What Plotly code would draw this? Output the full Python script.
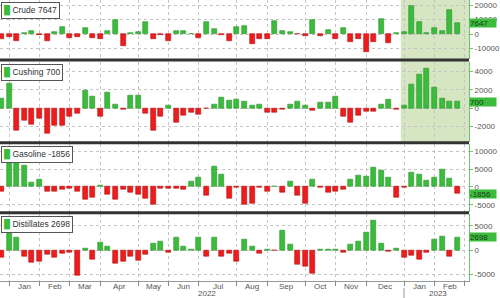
import plotly.graph_objects as go
import pandas as pd

# ---------------- data (thousand barrels, weekly change) ----------------
week_start = "2021-12-24"
n_weeks = 61
crude = [-3600, -2100, -4600, 500, 2400, -1000, -4800, 1100, 4500, -2600,
         -1900, 4300, -2500, -3400, 2400, 9400, -8000, 700, 1300, 8500,
         -3400, -1000, -5100, 2000, 2000, 300, -2800, 8200, 3300, -400,
         -4500, 4500, 5500, -7100, -3300, -3300, 8800, 2400, 1100, -200,
         -1400, 9900, -1700, 2600, -3100, 3900, -5400, -3700, -12600, -5200,
         10200, -5900, 700, 1700, 19000, 8400, 500, 4100, 2400, 16300, 7647]
cushing = [1100, 2700, -2400, -1300, -1800, -1100, -2700, -1900, -1900, -900,
           -550, 1900, 1300, -900, 1700, 450, -100, 1400, 1400, -600,
           -2400, -900, 250, -1600, -800, -500, -700, -50, 350, 1200,
           850, 1000, 700, 300, 450, -450, -450, -100, 350, 700,
           250, -300, 600, 600, 1300, -900, -1600, -800, -400, -400,
           450, 900, -100, 300, 2600, 3700, 4300, 2300, 1100, 700, 700]
gasoline = [-1400, 10100, 8000, 5900, 1300, 2100, -1400, -1200, -600, -500,
            -1200, -3600, -2900, 500, -2000, -3600, -700, -1500, -2000, -3300,
            -4800, -500, -500, -500, -600, 1400, 2600, -2500, 5800, 3500,
            -3300, -200, -5000, -4600, -100, -1200, 200, -1700, 1600, -2300,
            -4700, 2000, -100, -1500, -1200, -800, 2200, 3100, 2800, 5300,
            4500, 2500, -3100, -300, 4100, 3500, 1800, 2600, 5000, 2300, -1856]
distillates = [-1400, 4400, 2700, -1200, -2600, -2300, -900, -1400, -600, -500,
               -5100, 300, -1900, 1500, 800, -2700, -2400, -1200, -2200, -800,
               1400, 1800, -500, 2700, 700, 100, 2600, -1200, 2700, -1300,
               -700, -2400, 2200, 700, -600, 100, -100, 4100, 1200, -2900,
               -3400, -4800, 100, 100, 200, -500, 1100, 1700, 3600, 6200,
               1400, -200, 300, -1400, -1100, -1900, -500, 2300, 2900, -1200, 2698]
names = ["Crude", "Cushing", "Gasoline", "Distillates"]
last_labels = ["7647", "700", "-1856", "2698"]
tick_sets = [[-10000, 0, 10000, 20000], [-2000, 0, 2000, 4000],
             [-5000, 0, 5000, 10000], [-5000, 0, 5000]]
ranges = [[-17240, 23450], [-3675, 5080], [-7030, 12140], [-6330, 7550]]
year_labels = ["2022", "2023"]

# ---------------- layout helpers ----------------
W, H = 500, 298
ML, MR, MT, MB = 0, 27, 0, 17
PH = H - MT - MB  # plot height in px


def py(px):  # pixel y (from top) -> paper fraction
    return (PH - (px - MT)) / PH


domains = [[py(59), py(0)], [py(142), py(61.5)], [py(212), py(143.5)], [py(281), py(213.5)]]

dates = pd.date_range(week_start, periods=n_weeks, freq="7D")
xr = [pd.Timestamp("2021-12-22 15:00"), pd.Timestamp("2023-02-27 21:00")]
bar_w = 4.6 * 86400000

GREEN, GREEN_E = "#3cbc3c", "#2a922a"
RED, RED_E = "#ee1c1c", "#b40e0e"

# month grid: last weekly point of each month
fr = pd.date_range("2021-12-01", "2023-02-28", freq="W-FRI")
grid = list(pd.Series(fr).groupby([fr.year, fr.month]).max())

fig = go.Figure()
series = [crude, cushing, gasoline, distillates]
for i, vals in enumerate(series):
    sfx = "" if i == 0 else str(i + 1)
    fig.add_trace(go.Bar(
        x=dates, y=vals, width=bar_w,
        xaxis="x" + sfx, yaxis="y" + sfx,
        marker=dict(color=[GREEN if v >= 0 else RED for v in vals],
                    line=dict(color=[GREEN_E if v >= 0 else RED_E for v in vals], width=0.6)),
        showlegend=False, hoverinfo="x+y"))

layout = dict(width=W, height=H, margin=dict(l=ML, r=MR, t=MT, b=MB),
              paper_bgcolor="white", plot_bgcolor="white", bargap=0,
              font=dict(family="Arial, Liberation Sans, sans-serif", size=8, color="#444"))
for i in range(4):
    sfx = "" if i == 0 else str(i + 1)
    last = i == 3
    layout["xaxis" + sfx] = dict(
        domain=[0, 1], anchor="y" + sfx, type="date", range=xr,
        tickmode="array", tickvals=grid, showticklabels=False,
        showgrid=True, gridcolor="#c4c4c4", griddash="dot", gridwidth=1,
        ticks="outside" if last else "", ticklen=4, tickcolor="#888",
        showline=last, linecolor="#999", linewidth=1, zeroline=False,
        **({} if i == 0 else dict(matches="x")))
    layout["yaxis" + sfx] = dict(
        domain=domains[i], anchor="x" + sfx, side="right", range=ranges[i],
        tickmode="array", tickvals=tick_sets[i], ticktext=[str(t) for t in tick_sets[i]],
        showgrid=True, gridcolor="#c4c4c4", griddash="dot", gridwidth=1,
        zeroline=False, showline=True, linecolor="#6cc46c", linewidth=1,
        ticks="outside", ticklen=3, tickcolor="#6cc46c",
        tickfont=dict(size=8, color="#555"))
fig.update_layout(**layout)

shapes = []
# shaded 2023 region over crude + cushing panels
shapes.append(dict(type="rect", xref="x", yref="paper", x0="2022-12-27", x1=xr[1],
                   y0=domains[1][0], y1=1, fillcolor="#d6e5c2", line=dict(width=0),
                   layer="below"))
# thick separators between panels
for ypx in [60, 142.7, 212.7]:
    shapes.append(dict(type="line", xref="paper", yref="paper", x0=0, x1=1,
                       y0=py(ypx), y1=py(ypx), line=dict(color="#333", width=3)))
# year separator tick
shapes.append(dict(type="line", xref="x", yref="paper", x0="2022-12-30", x1="2022-12-30",
                   y0=py(288), y1=py(298), line=dict(color="#999", width=1)))
fig.update_layout(shapes=shapes)

ann = []
# month labels
for a, b in zip(grid[:-1], grid[1:]):
    mid = a + (b - a) / 2
    ann.append(dict(x=mid, xref="x4", y=py(286.5), yref="paper", text=b.strftime("%b"),
                    showarrow=False, font=dict(size=8, color="#555"), yanchor="middle"))
# year labels
ann.append(dict(x=pd.Timestamp("2022-07-01"), xref="x4", y=py(293.5), yref="paper",
                text=year_labels[0], showarrow=False, font=dict(size=8, color="#555"),
                yanchor="middle", borderpad=0))
ann.append(dict(x=pd.Timestamp("2023-01-30"), xref="x4", y=py(293.5), yref="paper",
                text=year_labels[1], showarrow=False, font=dict(size=8, color="#555"),
                yanchor="middle", borderpad=0))
# legend boxes
for i, nm in enumerate(names):
    top = domains[i][1]
    ann.append(dict(x=0.002, xref="paper", y=top - 2 / PH, yref="paper",
                    xanchor="left", yanchor="top", showarrow=False,
                    text='<span style="color:%s">\u2588</span> %s %s' % (GREEN, nm, last_labels[i]),
                    font=dict(size=8.5, color="#333"), bgcolor="white",
                    bordercolor="#555", borderwidth=1, borderpad=2))
# last value boxes
for i, vals in enumerate(series):
    sfx = "" if i == 0 else str(i + 1)
    ann.append(dict(x=1, xref="paper", xanchor="left", y=vals[-1], yref="y" + sfx,
                    yanchor="middle", showarrow=False, text=last_labels[i],
                    bgcolor="#3cbc3c", font=dict(size=8, color="#1d3d1d"),
                    width=26, height=8, borderpad=0, align="left"))
fig.update_layout(annotations=ann)

fig.write_html("out.html")
